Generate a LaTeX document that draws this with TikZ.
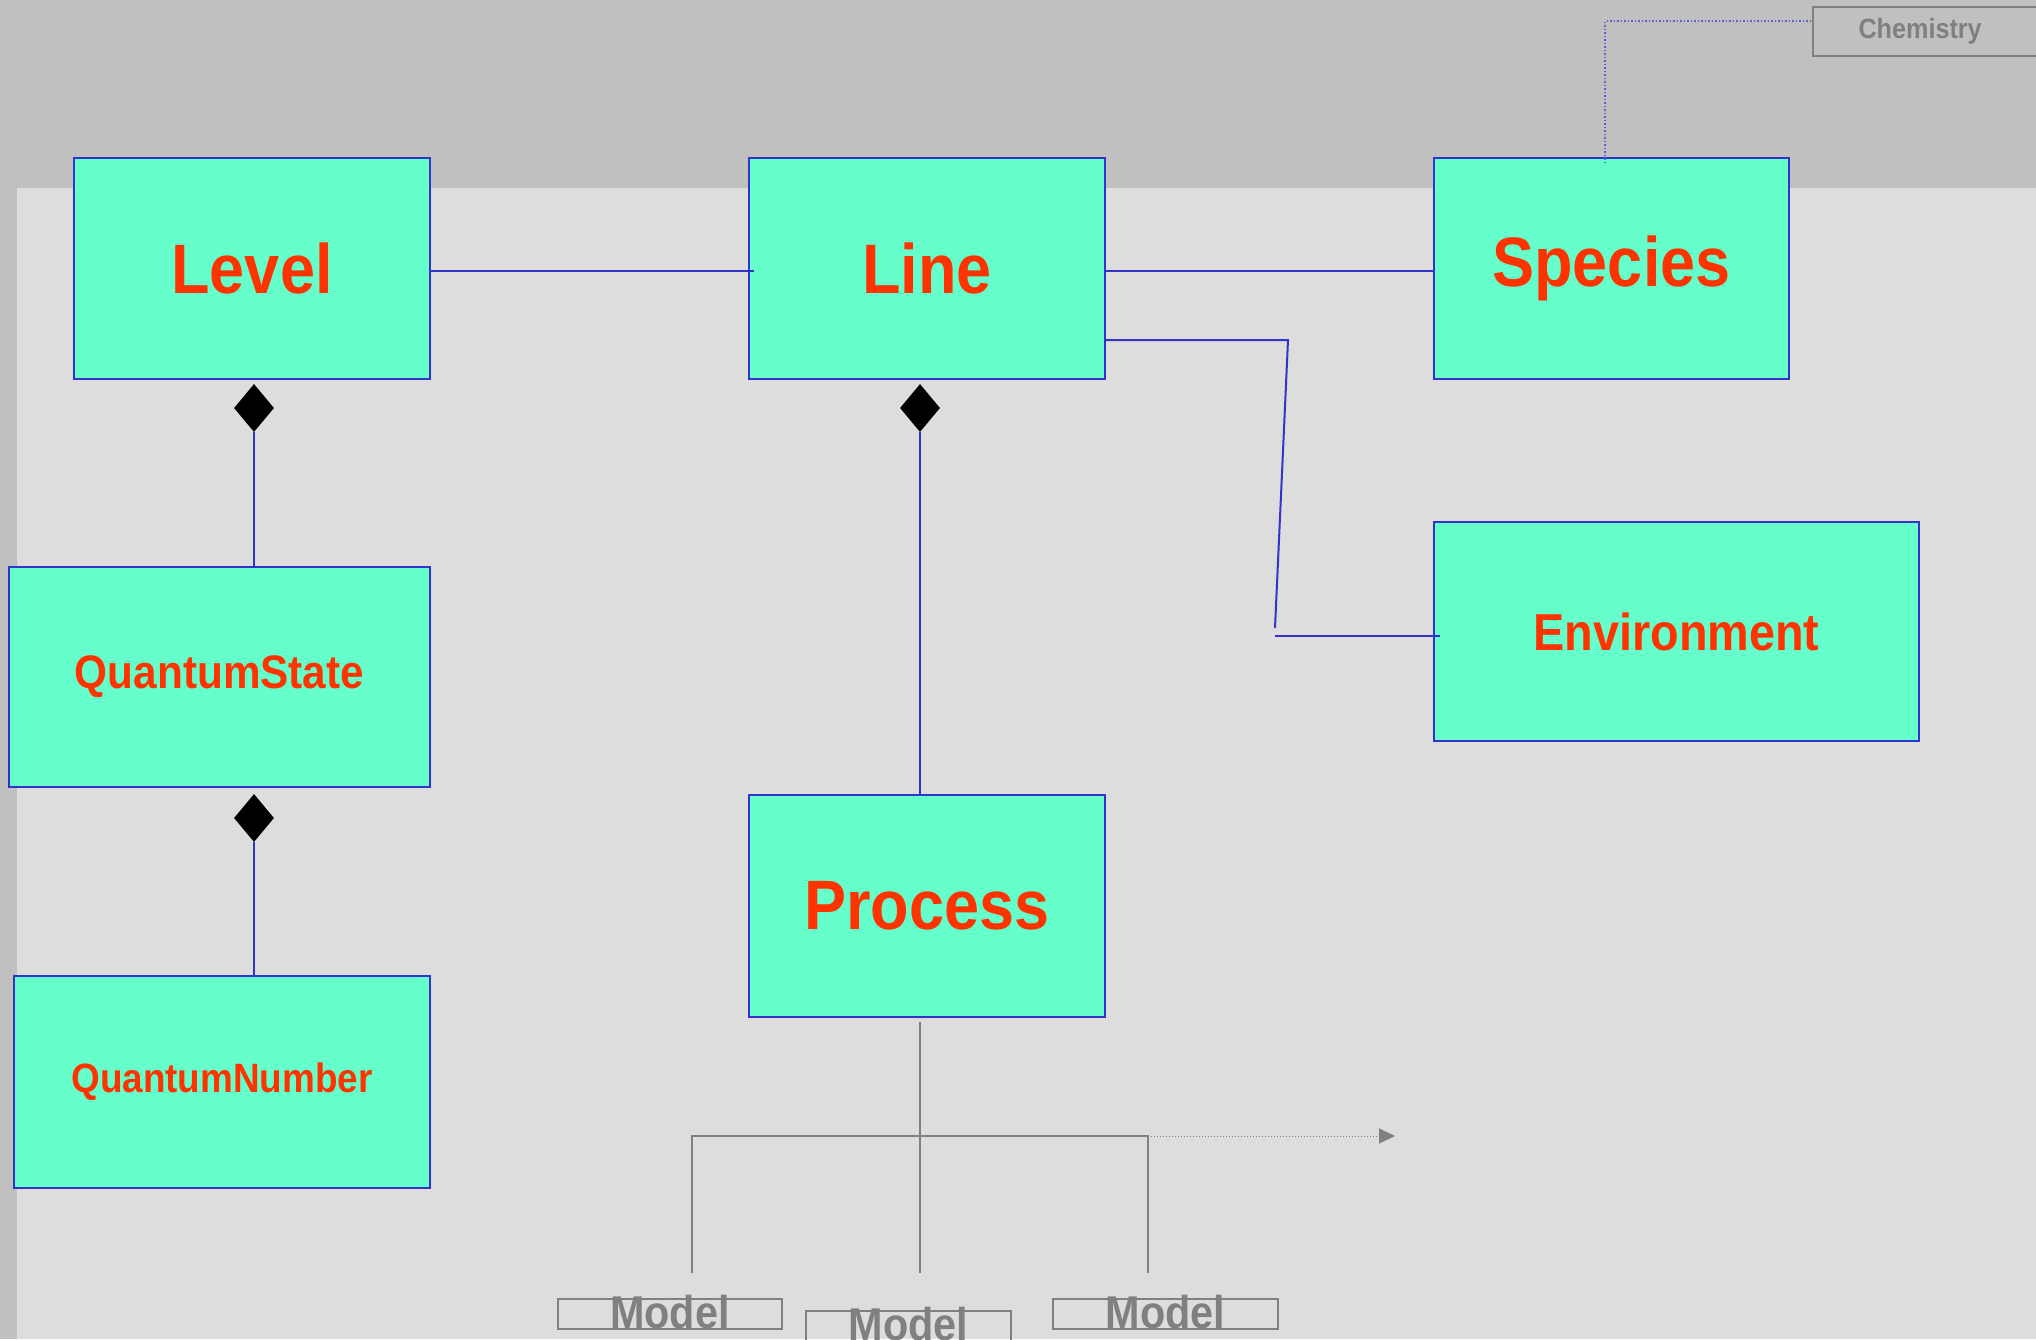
\documentclass[tikz,border=0pt]{standalone}
\usepackage{fontspec}
\setmainfont{Liberation Sans}[FakeStretch=0.9]
\usetikzlibrary{shapes.geometric,arrows.meta,positioning}

\definecolor{umlfill}{HTML}{66FFCC}
\definecolor{umltext}{HTML}{FF3300}
\definecolor{umlblue}{HTML}{3333CC}
\definecolor{pagegray}{HTML}{C0C0C0}
\definecolor{panegray}{HTML}{DDDDDD}
\definecolor{pkggray}{HTML}{808080}

\begin{document}
\begin{tikzpicture}[x=1pt,y=-1pt]
\tikzset{umlclass/.style={draw=umlblue, line width=2pt, fill=umlfill, text=umltext, inner sep=0pt},
	bigname/.style={font=\bfseries\fontsize{70}{70}\selectfont},
	comp/.style={diamond, fill=black, inner sep=0pt, minimum width=40pt, minimum height=48pt},
	assoc/.style={draw=umlblue, line width=2pt},
	pkglink/.style={draw=umlblue!80!white, line width=1.5pt, dotted},
	tree/.style={draw=pkggray, line width=2pt},
	model/.style={draw=pkggray, line width=2pt, text=pkggray, inner sep=0pt,
		minimum height=30pt, text height=28pt, text depth=0pt,
		font=\bfseries\fontsize{46}{46}\selectfont}}
	\useasboundingbox (0,0) rectangle (2036,1339);
	\fill[pagegray] (0,0) rectangle (2036,1339);
	\fill[panegray] (17,188) rectangle (2036,1339);

	\node[umlclass, bigname, minimum width=356pt, minimum height=221pt] (level) at (252,268.5) {Level};
	\node[umlclass, bigname, minimum width=356pt, minimum height=221pt] (line) at (927,268.5) {Line};
	\node[umlclass, bigname, minimum width=355pt, minimum height=221pt] (species) at (1611.5,268.5) {Species};
	\node[umlclass, font=\bfseries\fontsize{52}{52}\selectfont, minimum width=485pt, minimum height=219pt] (env) at (1676.5,631.5) {Environment};
	\node[umlclass, font=\bfseries\fontsize{47}{47}\selectfont, minimum width=421pt, minimum height=220pt] (qstate) at (219.5,677) {QuantumState};
	\node[umlclass, font=\bfseries\fontsize{41}{41}\selectfont, minimum width=416pt, minimum height=212pt] (qnumber) at (222,1082) {QuantumNumber};
	\node[umlclass, bigname, minimum width=356pt, minimum height=222pt] (process) at (927,906) {Process};

	\node[draw=pkggray, line width=2pt, text=pkggray, font=\bfseries\fontsize{28}{28}\selectfont,
		minimum height=49pt, inner xsep=45.5pt, text width=156pt, align=left] (chem) at (1936.5,31.5) {Chemistry};

	\node[model, minimum width=224pt] (model1) at (670,1314) {Model};
	\node[model, minimum width=205pt] (model2) at (908.5,1326) {Model};
	\node[model, minimum width=225pt] (model3) at (1165.5,1314) {Model};

	\node[comp] (lvlcomp) at (254,408) {};
	\node[comp] (qscomp) at (254,818) {};
	\node[comp] (linecomp) at (920,408) {};

	\coordinate (bendA) at (1288,340);
	\coordinate (bendB) at (1275,628);
	\coordinate (bendC) at (1275,636);
	\coordinate (bendD) at (1440,636);
	\coordinate (chemfoot) at (1605,163);
	\coordinate (chemknee) at (1605,21);
	\coordinate (procfoot) at (920,1022);
	\coordinate (fork) at (920,1136);
	\coordinate (forkL) at (692,1136);
	\coordinate (forkR) at (1148,1136);
	\coordinate (tipL) at (692,1273);
	\coordinate (tipM) at (920,1273);
	\coordinate (tipR) at (1148,1273);
	\coordinate (moreend) at (1395,1136);

	\draw[assoc] ([yshift=-2.5pt]level.east) -- ([xshift=6pt,yshift=-2.5pt]line.west);
	\draw[assoc] ([yshift=-2.5pt]line.east) -- ([yshift=-2.5pt]species.west);
	\draw[assoc] (line.east |- bendA) -- (bendA) -- (bendB);
	\draw[assoc] (bendC) -- (bendD);
	\draw[assoc] (lvlcomp.south) -- (lvlcomp.south |- qstate.north);
	\draw[assoc] (qscomp.south) -- (qscomp.south |- qnumber.north);
	\draw[assoc] (linecomp.south) -- (linecomp.south |- process.north);
	\draw[pkglink] (chemfoot) -- (chemknee) -- (chemknee -| chem.west);

	\draw[tree] (procfoot) -- (tipM);
	\draw[tree] (tipL) -- (forkL) -- (forkR) -- (tipR);
	\draw[pkggray, line width=1pt, dotted, -{Triangle[length=16pt,width=15pt]}] (forkR) -- (moreend);
\end{tikzpicture}
\end{document}
